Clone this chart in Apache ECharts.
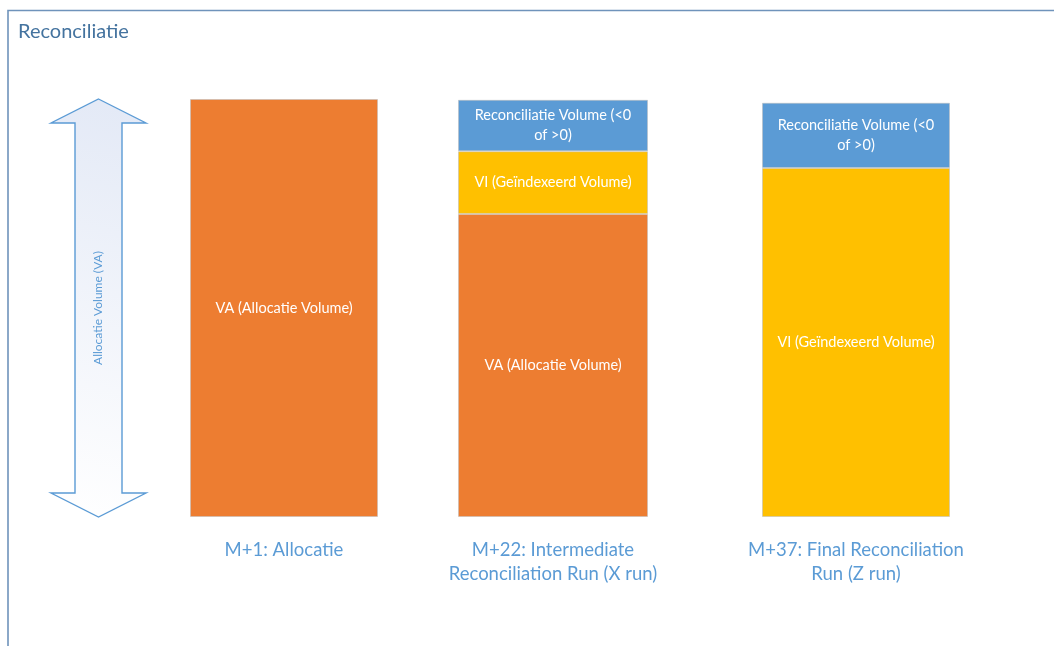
<!DOCTYPE html>
<html>
<head>
<meta charset="utf-8">
<script src="https://cdn.jsdelivr.net/npm/echarts@6/dist/echarts.min.js"></script>
<style>
  html, body { margin: 0; padding: 0; background: #ffffff; }
  #chart { width: 1054px; height: 646px; }
</style>
</head>
<body>
<div id="chart"></div>
<script>
// ---- data ----
const chartTitle = 'Reconciliatie';
const categories = [
  'M+1: Allocatie',
  'M+22: Intermediate\nReconciliation Run (X run)',
  'M+37: Final Reconciliation\nRun (Z run)'
];
const segmentNames = [
  'VA (Allocatie Volume)',
  'VI (Geïndexeerd Volume)',
  'Reconciliatie Volume (<0\nof >0)'
];
const allocatieVolume = [100, 72.5, 0];
const geindexeerdVolume = [0, 15, 83.5];
const reconciliatieVolume = [0, 12.3, 15.6];
const axisMin = 0;
const axisMax = 100;
const arrowLabel = 'Allocatie Volume (VA)';

// ---- styling ----
const FONT = 'Lato, "Open Sans", sans-serif';
const segmentColors = ['#ED7D31', '#FFC000', '#5B9BD5'];
const accent = '#5B9BD5';
const gridTop = 99, gridHeight = 418;
const columnLayout = [
  { left: 190, width: 188 },
  { left: 458, width: 190 },
  { left: 762, width: 188 }
];

const segmentValues = [allocatieVolume, geindexeerdVolume, reconciliatieVolume];

const grids = [], xAxes = [], yAxes = [], series = [];
columnLayout.forEach((col, i) => {
  grids.push({ left: col.left, width: col.width, top: gridTop, height: gridHeight });
  xAxes.push({
    type: 'category', gridIndex: i, data: [categories[i]],
    axisLine: { show: false }, axisTick: { show: false },
    axisLabel: { color: accent, fontFamily: FONT, fontSize: 18.5, lineHeight: 24, margin: 21 }
  });
  yAxes.push({
    type: 'value', gridIndex: i, min: axisMin, max: axisMax, show: false
  });
  segmentValues.forEach((vals, k) => {
    if (!vals[i]) return;
    series.push({
      type: 'bar', name: segmentNames[k], stack: 'col' + i,
      xAxisIndex: i, yAxisIndex: i,
      barWidth: '100%', barCategoryGap: 0,
      data: [vals[i]],
      itemStyle: {
        color: segmentColors[k],
        borderColor: 'rgba(190,190,190,0.55)', borderWidth: 1
      },
      label: {
        show: true, position: 'inside', color: '#ffffff',
        fontFamily: FONT, fontSize: 14.5, lineHeight: 20,
        formatter: () => segmentNames[k]
      },
      emphasis: { disabled: true },
      silent: true
    });
  });
});

const chart = echarts.init(document.getElementById('chart'), null, { renderer: 'canvas' });
chart.setOption({
  animation: false,
  backgroundColor: '#ffffff',
  title: {
    text: chartTitle, left: 13, top: 17,
    textStyle: { color: '#44739F', fontFamily: FONT, fontSize: 20, fontWeight: 'normal' }
  },
  grid: grids,
  xAxis: xAxes,
  yAxis: yAxes,
  series: series
});

// Double-headed arrow spanning the full allocation range of the value axis
const yTop = chart.convertToPixel({ yAxisIndex: 0 }, axisMax);
const yBot = chart.convertToPixel({ yAxisIndex: 0 }, axisMin);
const cx = 98.5, headH = 24, headHalf = 47.5, shaftHalf = 23.5;
const arrowPts = [
  [cx, yTop],
  [cx + headHalf, yTop + headH],
  [cx + shaftHalf, yTop + headH],
  [cx + shaftHalf, yBot - headH],
  [cx + headHalf, yBot - headH],
  [cx, yBot],
  [cx - headHalf, yBot - headH],
  [cx - shaftHalf, yBot - headH],
  [cx - shaftHalf, yTop + headH],
  [cx - headHalf, yTop + headH]
];

chart.setOption({
  graphic: [
    {
      type: 'polyline', silent: true,
      shape: { points: [[8, 646], [8, 10.5], [1054, 10.5]] },
      style: { stroke: '#6F93BB', lineWidth: 1.6, fill: null }
    },
    {
      type: 'polygon', silent: true,
      shape: { points: arrowPts },
      style: {
        fill: new echarts.graphic.LinearGradient(1, 0, 0, 1, [
          { offset: 0, color: '#E3E9F6' },
          { offset: 1, color: '#FFFFFF' }
        ]),
        stroke: accent, lineWidth: 1.4
      }
    },
    {
      type: 'text', silent: true,
      x: cx, y: (yTop + yBot) / 2, rotation: Math.PI / 2,
      style: {
        text: arrowLabel, fill: accent, fontFamily: FONT, fontSize: 12,
        align: 'center', verticalAlign: 'middle'
      }
    }
  ]
});
</script>
</body>
</html>
